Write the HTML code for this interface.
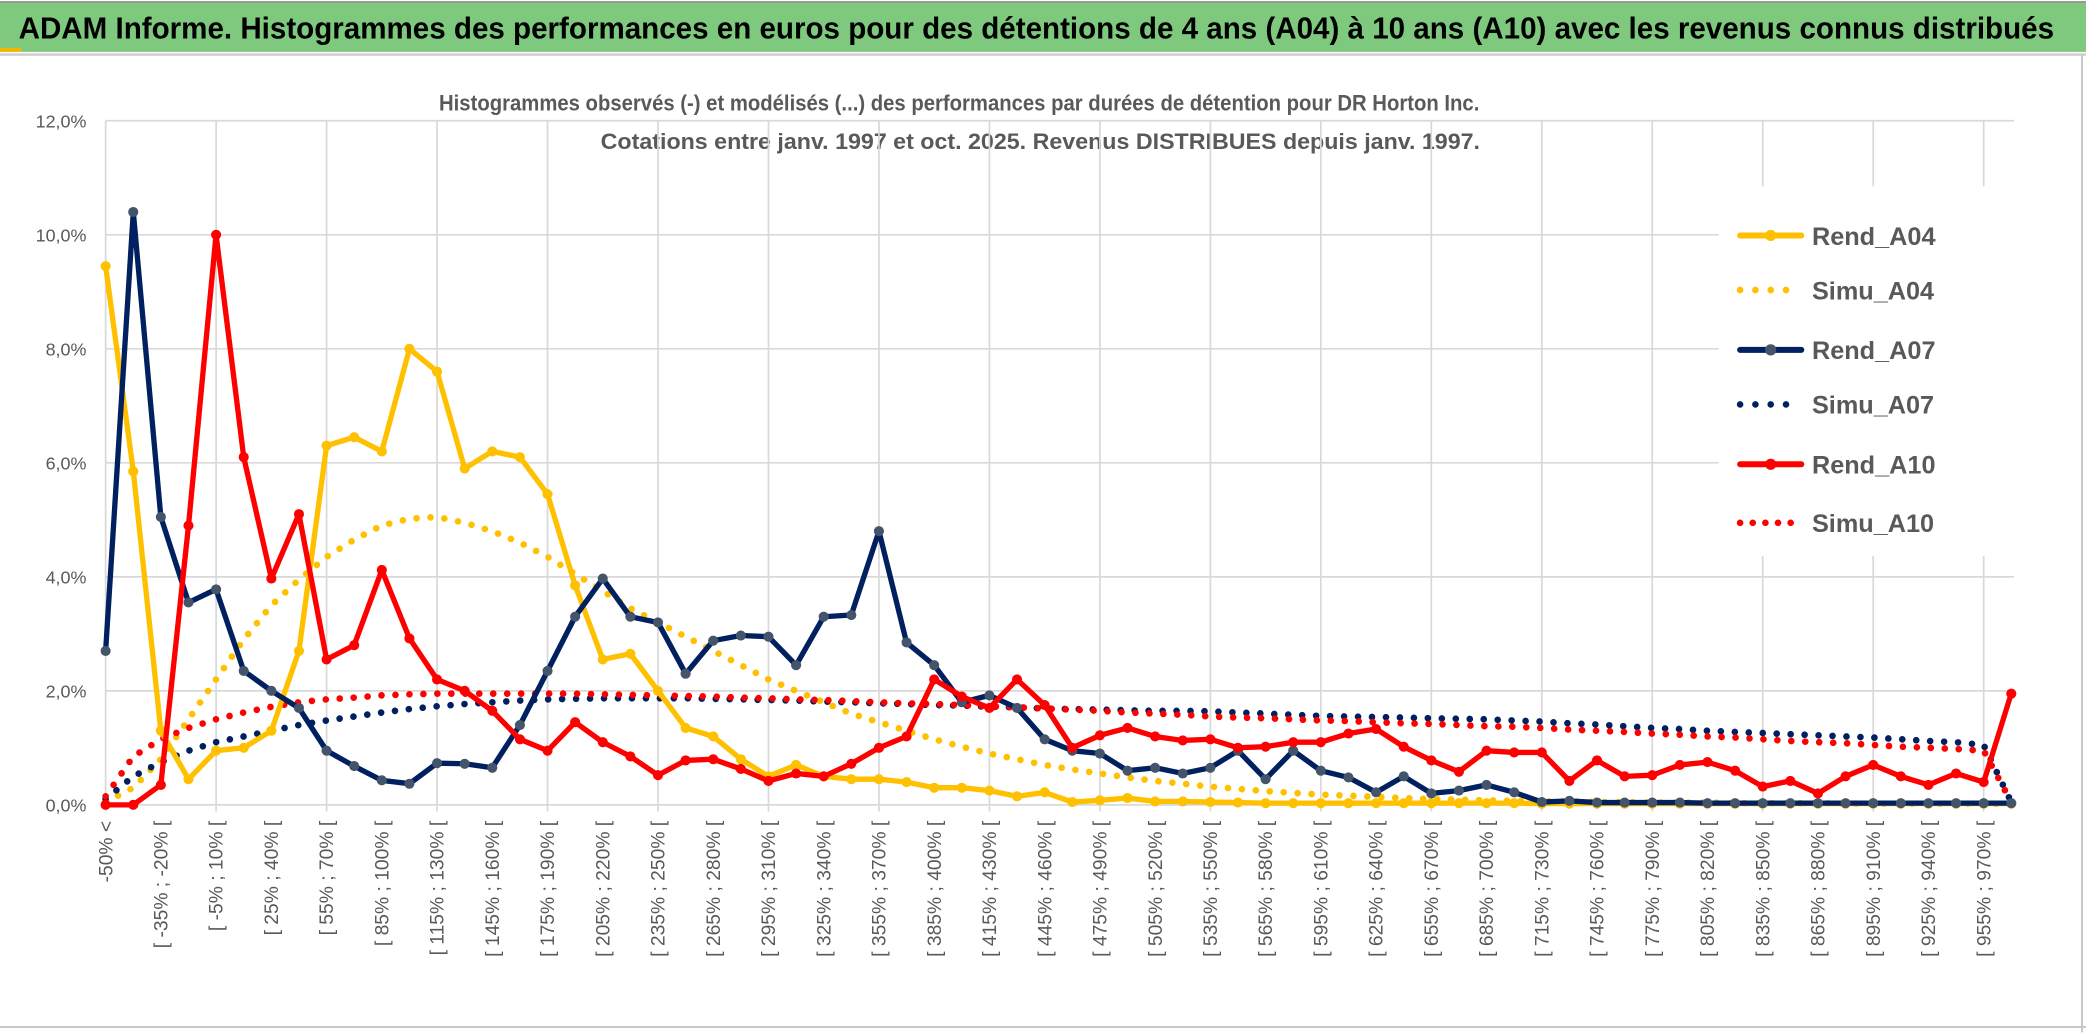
<!DOCTYPE html>
<html><head><meta charset="utf-8"><style>
html,body{margin:0;padding:0;background:#fff;}
svg{display:block;}
text{font-family:"Liberation Sans Narrow","Liberation Sans",sans-serif;}
</style></head><body>
<svg id="chart" width="2086" height="1033" viewBox="0 0 1568 776.5" preserveAspectRatio="none" xmlns="http://www.w3.org/2000/svg">
<rect x="0" y="0" width="1568" height="776.5" fill="#fff"/>
<rect x="0" y="2" width="1568" height="37" fill="#7ec97e"/>
<line x1="0" y1="1.5" x2="1568" y2="1.5" stroke="#999" stroke-width="1.5"/>
<rect x="0" y="36" width="16" height="3" fill="#f2b600"/>
<line x1="0" y1="41" x2="1568" y2="41" stroke="#d0d0d0" stroke-width="2"/>
<text x="14" y="29" font-size="23" font-weight="bold" fill="#000" textLength="1530" lengthAdjust="spacingAndGlyphs">ADAM Informe. Histogrammes des performances en euros pour des détentions de 4 ans (A04) à 10 ans (A10) avec les revenus connus distribués</text>
<text x="721" y="83" font-size="17" font-weight="bold" fill="#595959" text-anchor="middle" textLength="782" lengthAdjust="spacingAndGlyphs">Histogrammes observés (-) et modélisés (...) des performances par durées de détention pour DR Horton Inc.</text>
<text x="782" y="112" font-size="17" font-weight="bold" fill="#595959" text-anchor="middle" textLength="661" lengthAdjust="spacingAndGlyphs">Cotations entre janv. 1997 et oct. 2025. Revenus DISTRIBUES depuis janv. 1997.</text>
<line x1="1565" y1="41" x2="1565" y2="776" stroke="#c8c8c8" stroke-width="1.5"/>
<line x1="0" y1="772" x2="1568" y2="772" stroke="#c8c8c8" stroke-width="1.5"/>
<g id="grid"></g>
<g id="xlabels"></g>
<g id="ylabels"></g>
<g id="series"></g>
<g id="legend"></g>
</svg>
<script>
const NS="http://www.w3.org/2000/svg";
const categories=["-50% <"];
for(let i=1;i<=68;i++){const a=-50+15*(i-1);categories.push("[ "+a+"% ; "+(a+15)+"% [");}
categories.push("> 970%");
const yTicks=[0,2,4,6,8,10,12];
const yTickLabels=["0,0%","2,0%","4,0%","6,0%","8,0%","10,0%","12,0%"];
const rendA04=[9.45,5.85,1.3,0.45,0.95,1.0,1.3,2.7,6.3,6.45,6.2,8.0,7.6,5.9,6.2,6.1,5.45,3.85,2.55,2.65,2.0,1.35,1.2,0.8,0.5,0.7,0.5,0.45,0.45,0.4,0.3,0.3,0.25,0.15,0.22,0.05,0.08,0.12,0.06,0.06,0.05,0.04,0.03,0.03,0.03,0.03,0.03,0.03,0.03,0.03,0.03,0.03,0.02,0.02,0.02,0.02,0.02,0.02,0.02,0.02,0.02,0.02,0.02,0.02,0.02,0.02,0.02,0.02,0.02,0.02];
const simuA04=[0.05,0.3,0.8,1.5,2.2,2.9,3.5,3.95,4.35,4.65,4.9,5.02,5.05,4.95,4.8,4.6,4.35,4.05,3.75,3.45,3.2,2.95,2.7,2.45,2.2,2.0,1.8,1.6,1.45,1.3,1.15,1.02,0.9,0.8,0.7,0.62,0.55,0.48,0.42,0.37,0.32,0.28,0.24,0.21,0.18,0.16,0.14,0.12,0.1,0.09,0.08,0.07,0.06,0.06,0.05,0.05,0.04,0.04,0.04,0.03,0.03,0.03,0.03,0.02,0.02,0.02,0.02,0.02,0.02,0.01];
const rendA07=[2.7,10.4,5.05,3.55,3.78,2.35,2.0,1.7,0.95,0.68,0.43,0.37,0.73,0.72,0.65,1.4,2.35,3.3,3.97,3.3,3.2,2.3,2.88,2.97,2.95,2.45,3.3,3.33,4.8,2.85,2.45,1.8,1.92,1.7,1.15,0.95,0.9,0.6,0.65,0.55,0.65,0.95,0.45,0.95,0.6,0.48,0.22,0.5,0.2,0.25,0.35,0.22,0.05,0.07,0.04,0.04,0.04,0.04,0.03,0.03,0.03,0.03,0.03,0.03,0.03,0.03,0.03,0.03,0.03,0.03];
const simuA07=[0.1,0.5,0.75,0.95,1.1,1.2,1.3,1.4,1.48,1.55,1.62,1.68,1.73,1.77,1.8,1.83,1.85,1.86,1.87,1.87,1.87,1.87,1.86,1.85,1.84,1.83,1.81,1.8,1.78,1.77,1.75,1.74,1.72,1.71,1.69,1.68,1.67,1.66,1.65,1.65,1.64,1.62,1.6,1.58,1.56,1.55,1.54,1.53,1.52,1.51,1.5,1.48,1.46,1.43,1.41,1.38,1.35,1.33,1.3,1.28,1.26,1.24,1.22,1.2,1.18,1.15,1.12,1.1,1.05,0.05];
const rendA10=[0,0,0.35,4.9,10.0,6.1,3.97,5.1,2.55,2.8,4.12,2.92,2.2,2.0,1.65,1.15,0.95,1.45,1.1,0.85,0.52,0.78,0.8,0.63,0.42,0.55,0.5,0.72,1.0,1.2,2.2,1.9,1.7,2.2,1.75,1.0,1.22,1.35,1.2,1.13,1.15,1.0,1.02,1.1,1.1,1.25,1.33,1.02,0.78,0.58,0.95,0.92,0.92,0.42,0.78,0.5,0.52,0.7,0.75,0.6,0.32,0.42,0.2,0.5,0.7,0.5,0.35,0.55,0.4,1.95];
const simuA10=[0.15,0.85,1.15,1.35,1.5,1.62,1.72,1.8,1.85,1.88,1.92,1.94,1.95,1.95,1.95,1.95,1.95,1.95,1.94,1.93,1.92,1.91,1.9,1.88,1.87,1.85,1.84,1.82,1.8,1.78,1.77,1.75,1.73,1.71,1.69,1.67,1.65,1.62,1.6,1.58,1.55,1.53,1.52,1.5,1.48,1.47,1.45,1.43,1.42,1.4,1.38,1.37,1.35,1.32,1.3,1.28,1.25,1.23,1.2,1.18,1.15,1.12,1.1,1.08,1.05,1.02,1.0,0.98,0.95,0.05];

const X0=79.4,DX=20.76,Y0=605,YPER=42.85;
function xs(i){return X0+DX*i;}
function ys(v){return Y0-v*YPER;}
function mk(tag,attrs,parent){const e=document.createElementNS(NS,tag);for(const k in attrs)e.setAttribute(k,attrs[k]);parent.appendChild(e);return e;}
const grid=document.getElementById('grid');
for(let t=0;t<yTicks.length;t++){
  const l=mk('line',{x1:X0,x2:xs(categories.length-1)+2,y1:ys(yTicks[t]),y2:ys(yTicks[t]),stroke:'#d9d9d9','stroke-width':1.3},grid);
  
  
  const tx=mk('text',{x:65,y:ys(yTicks[t])+5,'font-size':13.5,fill:'#595959','text-anchor':'end'},document.getElementById('ylabels'));
  tx.textContent=yTickLabels[t];
  
  
}
for(let i=0;i<categories.length;i+=4){
  const l=mk('line',{x1:xs(i),x2:xs(i),y1:ys(12),y2:Y0+5,stroke:'#d9d9d9','stroke-width':1.3},grid);
  
  
}
const lb=mk('rect',{x:1292,y:140,width:228,height:278,fill:'#fff'},grid);


const xl=document.getElementById('xlabels');
for(let i=0;i<categories.length;i+=2){
  const x=xs(i)+5;
  const t=mk('text',{x:x,y:617,'font-size':14.5,fill:'#595959','text-anchor':'end',transform:'rotate(-90 '+x+' 617)'},xl);
  t.textContent=categories[i];
  
  
}
const sg=document.getElementById('series');
function pts(arr){return arr.map((v,i)=>xs(i).toFixed(1)+','+ys(v).toFixed(1)).join(' ');}
function dotted(arr,color,name){
  const p=mk('polyline',{points:pts(arr),fill:'none',stroke:color,'stroke-width':5,'stroke-linecap':'round','stroke-dasharray':'0 10.5'},sg);
  
  
}
function solid(arr,color,mcolor,name){
  const g=mk('g',{},sg);
  
  
  mk('polyline',{points:pts(arr),fill:'none',stroke:color,'stroke-width':4,'stroke-linejoin':'round'},g);
  arr.forEach((v,i)=>{
    const c=mk('circle',{cx:xs(i),cy:ys(v),r:3.8,fill:mcolor},g);
    
    
  });
}
dotted(simuA04,'#ffc000','simu-a04-line');
dotted(simuA07,'#002060','simu-a07-line');
dotted(simuA10,'#ff0000','simu-a10-line');
solid(rendA04,'#ffc000','#ffc000','rend-a04-line');
solid(rendA07,'#002060','#44546a','rend-a07-line');
solid(rendA10,'#ff0000','#ff0000','rend-a10-line');

const legendNames=["Rend_A04","Simu_A04","Rend_A07","Simu_A07","Rend_A10","Simu_A10"];
const legendColors=["#ffc000","#ffc000","#002060","#002060","#ff0000","#ff0000"];
const legendY=[177,218,263,304,349,393];
const lg=document.getElementById('legend');
legendNames.forEach((n,k)=>{
  const g=mk('g',{},lg);
  
  
  const y=legendY[k];
  if(n.startsWith('Rend')){
    mk('line',{x1:1308,x2:1354,y1:y,y2:y,stroke:legendColors[k],'stroke-width':4.5,'stroke-linecap':'round'},g);
    mk('circle',{cx:1331,cy:y,r:4.2,fill:k==2?'#44546a':legendColors[k]},g);
  } else {
    mk('line',{x1:1308,x2:1354,y1:y,y2:y,stroke:legendColors[k],'stroke-width':5,'stroke-linecap':'round','stroke-dasharray':'0 '+(k==5?9.5:11.5)},g);
  }
  const t=mk('text',{x:1362,y:y+7,'font-size':19,'font-weight':'bold',fill:'#595959'},g);
  t.textContent=n;
});
</script>
</body></html>
